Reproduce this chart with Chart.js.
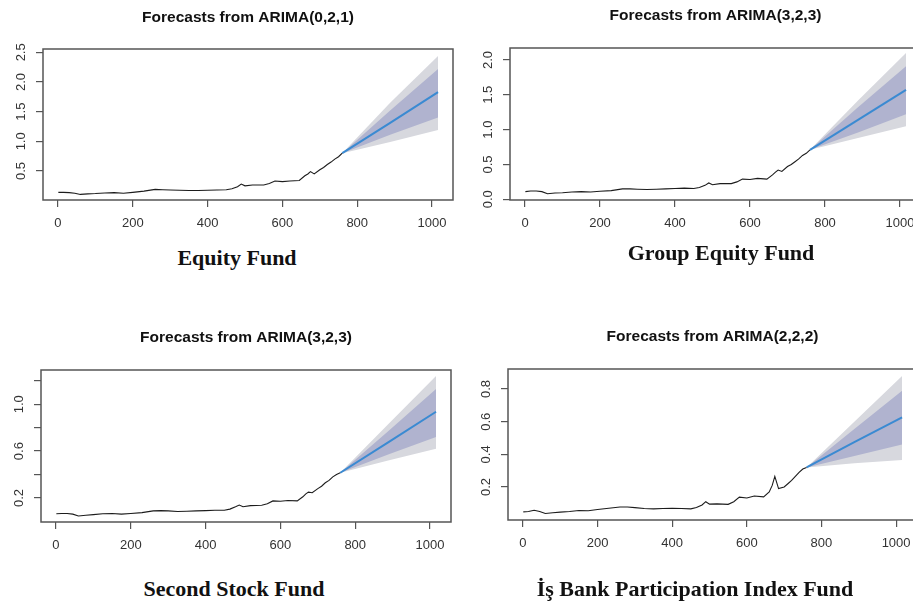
<!DOCTYPE html>
<html>
<head>
<meta charset="utf-8">
<script src="https://cdn.jsdelivr.net/npm/chart.js@4"></script>
<style>
  html, body { margin: 0; padding: 0; background: #fff; overflow: hidden; }
  #page { position: relative; width: 913px; height: 605px; overflow: hidden; background: #fff; }
  canvas { position: absolute; }
  .caption {
    position: absolute; width: 420px; text-align: center;
    font-family: "Liberation Serif", "Times New Roman", serif;
    font-weight: bold; font-size: 22px; line-height: 26px; color: #111;
  }
</style>
</head>
<body>
<div id="page">
  <canvas id="equity" width="460" height="240" style="left:0;top:0"></canvas>
  <canvas id="groupEquity" width="471" height="240" style="left:455px;top:0"></canvas>
  <canvas id="secondStock" width="460" height="260" style="left:0;top:300px"></canvas>
  <canvas id="isBank" width="471" height="260" style="left:455px;top:300px"></canvas>

  <div class="caption" style="left:27px;top:245px">Equity Fund</div>
  <div class="caption" style="left:511px;top:240px">Group Equity Fund</div>
  <div class="caption" style="left:24px;top:576px">Second Stock Fund</div>
  <div class="caption" style="left:485px;top:576px">İş Bank Participation Index Fund</div>
</div>

<script>
const dayIndex = [1, 15, 30, 45, 60, 80, 100, 125, 150, 175, 200, 230, 260, 280, 300, 325, 350, 375, 400, 425,
                  450, 465, 480, 490, 500, 520, 550, 565, 580, 600, 620, 645, 660, 668, 675, 685, 700, 710, 720, 730,
                  740, 750, 760];

const equityFund = [0.14, 0.14, 0.135, 0.125, 0.105, 0.115, 0.12, 0.13, 0.135, 0.125, 0.14, 0.16, 0.19, 0.185, 0.18, 0.175, 0.17, 0.17, 0.175, 0.18,
                    0.185, 0.2, 0.235, 0.28, 0.25, 0.265, 0.265, 0.29, 0.33, 0.32, 0.33, 0.34, 0.42, 0.45, 0.49, 0.45, 0.52, 0.56, 0.61, 0.65,
                    0.7, 0.74, 0.8];

const groupEquityFund = [0.11, 0.12, 0.12, 0.11, 0.08, 0.09, 0.095, 0.105, 0.11, 0.105, 0.115, 0.125, 0.15, 0.15, 0.145, 0.14, 0.145, 0.15, 0.155, 0.16,
                         0.155, 0.17, 0.2, 0.235, 0.21, 0.225, 0.225, 0.25, 0.29, 0.285, 0.3, 0.29, 0.35, 0.39, 0.42, 0.4, 0.47, 0.5, 0.54, 0.58,
                         0.63, 0.66, 0.71];

const secondStockFund = [0.065, 0.068, 0.068, 0.062, 0.046, 0.052, 0.058, 0.065, 0.068, 0.062, 0.068, 0.075, 0.09, 0.092, 0.09, 0.085, 0.087, 0.09, 0.092, 0.095,
                         0.095, 0.105, 0.125, 0.14, 0.125, 0.135, 0.138, 0.15, 0.175, 0.172, 0.178, 0.175, 0.21, 0.235, 0.25, 0.245, 0.28, 0.3, 0.33, 0.35,
                         0.38, 0.4, 0.415];

const isBankFund = [0.048, 0.05, 0.058, 0.05, 0.038, 0.042, 0.046, 0.05, 0.056, 0.055, 0.062, 0.07, 0.078, 0.078, 0.074, 0.068, 0.066, 0.068, 0.07, 0.068,
                    0.066, 0.075, 0.09, 0.11, 0.095, 0.097, 0.094, 0.11, 0.138, 0.133, 0.145, 0.14, 0.17, 0.21, 0.265, 0.19, 0.2, 0.22, 0.24, 0.265,
                    0.29, 0.31, 0.32];

// forecasts: point forecast and 80% / 95% intervals
const forecastIndex = [760, 888, 1016];

const equityMean = [0.8, 1.31, 1.83];
const equityLo80 = [0.8, 1.11, 1.4];
const equityHi80 = [0.8, 1.52, 2.22];
const equityLo95 = [0.8, 0.99, 1.19];
const equityHi95 = [0.8, 1.65, 2.44];

const groupMean = [0.71, 1.14, 1.57];
const groupLo80 = [0.71, 0.96, 1.22];
const groupHi80 = [0.71, 1.32, 1.91];
const groupLo95 = [0.71, 0.88, 1.05];
const groupHi95 = [0.71, 1.42, 2.1];

const secondMean = [0.415, 0.675, 0.936];
const secondLo80 = [0.415, 0.57, 0.72];
const secondHi80 = [0.415, 0.77, 1.13];
const secondLo95 = [0.415, 0.52, 0.62];
const secondHi95 = [0.415, 0.83, 1.24];

const isBankMean = [0.32, 0.475, 0.627];
const isBankLo80 = [0.32, 0.39, 0.46];
const isBankHi80 = [0.32, 0.555, 0.79];
const isBankLo95 = [0.32, 0.345, 0.365];
const isBankHi95 = [0.32, 0.6, 0.88];

// ticks
const xTicks = [0, 200, 400, 600, 800, 1000];
const equityTicks = [0.5, 1.0, 1.5, 2.0, 2.5];
const equityTickLabels = ["0.5", "1.0", "1.5", "2.0", "2.5"];
const groupTicks = [0.0, 0.5, 1.0, 1.5, 2.0];
const groupTickLabels = ["0.0", "0.5", "1.0", "1.5", "2.0"];
const secondTicks = [0.2, 0.4, 0.6, 0.8, 1.0, 1.2];
const secondTickLabels = ["0.2", "", "0.6", "", "1.0", ""];
const isBankTicks = [0.2, 0.4, 0.6, 0.8];
const isBankTickLabels = ["0.2", "0.4", "0.6", "0.8"];

const sans = "'Liberation Sans', Arial, sans-serif";
const axisColor = "#555";
const tickColor = "#333";

const pts = (xs, ys) => xs.map((x, i) => ({ x: x, y: ys[i] }));

// box around the plot region + main title over it, like base R plot()
const rFrame = {
    id: "rFrame",
    afterDraw(chart, args, opts) {
        const ctx = chart.ctx;
        const a = chart.chartArea;
        ctx.save();
        ctx.strokeStyle = axisColor;
        ctx.lineWidth = 1.5;
        ctx.strokeRect(a.left, a.top, a.right - a.left, a.bottom - a.top);
        ctx.font = "bold 15.5px " + sans;
        ctx.fillStyle = "#111";
        ctx.textAlign = "center";
        ctx.textBaseline = "middle";
        ctx.fillText(opts.title, (a.left + a.right) / 2, opts.titleY);
        ctx.restore();
    }
};

function setForecastChart(id, p) {
    const noLine = "rgba(0,0,0,0)";
    new Chart(document.getElementById(id).getContext("2d"), {
        type: "line",
        data: {
            datasets: [
                { data: pts(dayIndex, p.hist), borderColor: "#1c1c1c", borderWidth: 1.1 },
                { data: pts(forecastIndex, p.mean), borderColor: "#3a8ad2", borderWidth: 2 },
                { data: pts(forecastIndex, p.hi80), borderColor: noLine, borderWidth: 0, backgroundColor: "#b0b3cf", fill: "+1" },
                { data: pts(forecastIndex, p.lo80), borderColor: noLine, borderWidth: 0 },
                { data: pts(forecastIndex, p.hi95), borderColor: noLine, borderWidth: 0, backgroundColor: "#d7d8de", fill: "+1" },
                { data: pts(forecastIndex, p.lo95), borderColor: noLine, borderWidth: 0 }
            ]
        },
        options: {
            responsive: false,
            animation: false,
            events: [],
            layout: { padding: { top: p.top, right: p.right, left: 0, bottom: 0 } },
            elements: { point: { radius: 0 }, line: { tension: 0 } },
            plugins: {
                legend: { display: false },
                tooltip: { enabled: false },
                rFrame: { title: p.title, titleY: p.titleY }
            },
            scales: {
                x: {
                    type: "linear",
                    min: -40,
                    max: 1056,
                    afterBuildTicks: s => { s.ticks = xTicks.map(v => ({ value: v })); },
                    afterFit: s => { s.height = p.xHeight; },
                    grid: { drawOnChartArea: false, drawTicks: true, tickLength: 7, color: axisColor, lineWidth: 1.2 },
                    border: { display: false },
                    ticks: {
                        autoSkip: false, maxRotation: 0, padding: 9, color: tickColor,
                        font: { family: sans, size: 13 },
                        callback: v => String(v)
                    }
                },
                y: {
                    type: "linear",
                    min: p.yMin,
                    max: p.yMax,
                    afterBuildTicks: s => { s.ticks = p.yTicks.map(v => ({ value: v })); },
                    afterFit: s => { s.width = p.yWidth; },
                    grid: { drawOnChartArea: false, drawTicks: true, tickLength: 7, color: axisColor, lineWidth: 1.2 },
                    border: { display: false },
                    ticks: {
                        autoSkip: false, minRotation: 90, maxRotation: 90, crossAlign: "center", padding: 6,
                        color: tickColor, font: { family: sans, size: 13 },
                        callback: (v, i) => p.yLabels[i]
                    }
                }
            }
        },
        plugins: [rFrame]
    });
}

setForecastChart("equity", {
    title: "Forecasts from ARIMA(0,2,1)", titleY: 18,
    hist: equityFund, mean: equityMean, lo80: equityLo80, hi80: equityHi80, lo95: equityLo95, hi95: equityHi95,
    yMin: 0.011, yMax: 2.556, yTicks: equityTicks, yLabels: equityTickLabels,
    top: 49, right: 7, yWidth: 43, xHeight: 40
});

setForecastChart("groupEquity", {
    title: "Forecasts from ARIMA(3,2,3)", titleY: 16,
    hist: groupEquityFund, mean: groupMean, lo80: groupLo80, hi80: groupHi80, lo95: groupLo95, hi95: groupHi95,
    yMin: -0.01, yMax: 2.172, yTicks: groupTicks, yLabels: groupTickLabels,
    top: 48, right: 5, yWidth: 55, xHeight: 40
});

setForecastChart("secondStock", {
    title: "Forecasts from ARIMA(3,2,3)", titleY: 38,
    hist: secondStockFund, mean: secondMean, lo80: secondLo80, hi80: secondHi80, lo95: secondLo95, hi95: secondHi95,
    yMin: -0.005, yMax: 1.292, yTicks: secondTicks, yLabels: secondTickLabels,
    top: 70, right: 9, yWidth: 41, xHeight: 38
});

setForecastChart("isBank", {
    title: "Forecasts from ARIMA(2,2,2)", titleY: 37,
    hist: isBankFund, mean: isBankMean, lo80: isBankLo80, hi80: isBankHi80, lo95: isBankLo95, hi95: isBankHi95,
    yMin: -0.002, yMax: 0.9226, yTicks: isBankTicks, yLabels: isBankTickLabels,
    top: 69, right: 9, yWidth: 53, xHeight: 40
});
</script>
</body>
</html>
